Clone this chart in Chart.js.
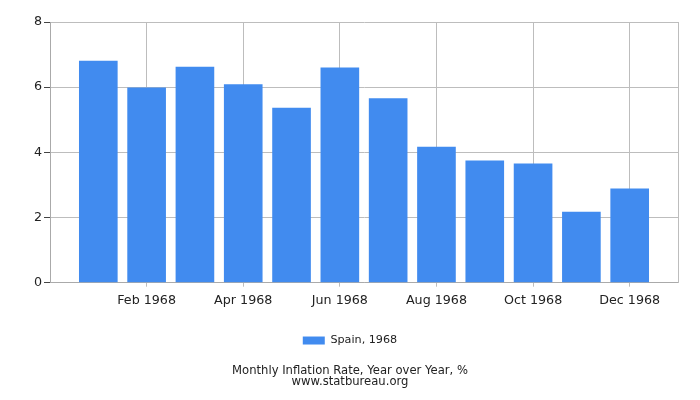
<!DOCTYPE html>
<html>
<head>
<meta charset="utf-8">
<script src="https://cdn.jsdelivr.net/npm/chart.js@4"></script>
<style>
  html, body { margin: 0; padding: 0; background: #fff; }
  #wrap { width: 700px; height: 400px; }
</style>
</head>
<body>
<div id="wrap"><canvas id="myChart"></canvas></div>
<script>
const months = ['Jan', 'Feb', 'Mar', 'Apr', 'May', 'Jun', 'Jul', 'Aug', 'Sep', 'Oct', 'Nov', 'Dec'];
const inflation = [6.81, 5.99, 6.63, 6.09, 5.37, 6.60, 5.66, 4.17, 3.75, 3.66, 2.18, 2.89];
const tickMonths = [1, 3, 5, 7, 9, 11]; // Feb, Apr, Jun ...
const yTicks = [0, 2, 4, 6, 8];

const gridColor = '#bdbdbd';
const fontFam = '"DejaVu Sans", Verdana, sans-serif';

const ctx = document.getElementById('myChart').getContext('2d');

new Chart(ctx, {
  type: 'bar',
  data: {
    datasets: [{
      label: 'Spain, 1968',
      data: inflation.map((v, i) => ({ x: i, y: v })),
      backgroundColor: 'rgb(65,139,239)',
      categoryPercentage: 1,
      barPercentage: 0.8
    }]
  },
  options: {
    responsive: true,
    maintainAspectRatio: false,
    animation: false,
    layout: { padding: { left: 22, right: 22, top: 22, bottom: 13 } },
    plugins: {
      legend: {
        position: 'bottom',
        labels: {
          boxWidth: 22,
          boxHeight: 8,
          color: '#222',
          font: { family: fontFam, size: 11.2 },
          padding: 21
        }
      },
      title: {
        display: true,
        position: 'bottom',
        text: ['Monthly Inflation Rate, Year over Year, %', 'www.statbureau.org'],
        color: '#222',
        font: { family: fontFam, size: 11.6, weight: 'normal', lineHeight: 0.9 },
        padding: { top: 10, bottom: 0 }
      },
      tooltip: { enabled: false }
    },
    scales: {
      x: {
        type: 'linear',
        min: -1,
        max: 12,
        offset: false,
        afterBuildTicks: axis => {
          axis.ticks = tickMonths.map(v => ({ value: v }));
        },
        ticks: {
          autoSkip: false,
          maxRotation: 0,
          color: '#222',
          font: { family: fontFam, size: 12.7 },
          padding: 6,
          callback: v => months[v] + ' 1968'
        },
        grid: { color: gridColor, offset: false, tickLength: 4 },
        border: { color: '#aaa' }
      },
      y: {
        min: 0,
        max: 8,
        afterBuildTicks: axis => {
          axis.ticks = yTicks.map(v => ({ value: v }));
        },
        afterFit: axis => { axis.width = 28; },
        ticks: {
          color: '#222',
          font: { family: fontFam, size: 12.7 },
          padding: 2
        },
        grid: { color: gridColor, tickLength: 6, tickColor: '#444' },
        border: { color: '#aaa' }
      },
      y2: {
        position: 'right',
        afterFit: axis => { axis.width = 0; },
        grid: { display: false },
        ticks: { display: false },
        border: { color: gridColor }
      }
    }
  }
});
</script>
</body>
</html>
